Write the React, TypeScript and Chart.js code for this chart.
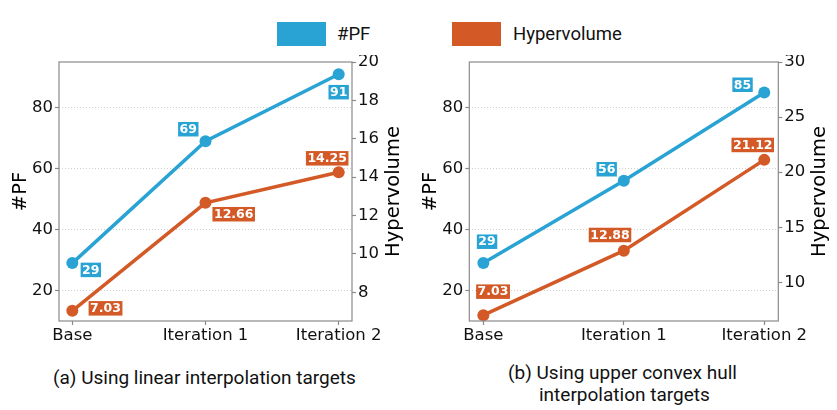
import React, { useEffect, useRef } from 'react';
import { Chart, registerables } from 'chart.js';

Chart.register(...registerables);

// ---------- data ----------
const CATEGORIES = ['Base', 'Iteration 1', 'Iteration 2'];
const PF_LINEAR = [29, 69, 91];
const HV_LINEAR = [7.03, 12.66, 14.25];
const PF_HULL = [29, 56, 85];
const HV_HULL = [7.03, 12.88, 21.12];
const PF_TICKS = [20, 40, 60, 80];
const HV_TICKS_LINEAR = [8, 10, 12, 14, 16, 18, 20];
const HV_TICKS_HULL = [10, 15, 20, 25, 30];
const SERIES_NAMES = ['#PF', 'Hypervolume'];
const CAPTION_A = '(a) Using linear interpolation targets';
const CAPTION_B_LINE1 = '(b) Using upper convex hull';
const CAPTION_B_LINE2 = 'interpolation targets';

// ---------- styles ----------
const BLUE = '#29A3D4';
const ORANGE = '#D35A26';
const GREY = '#8a8a8a';
const TICK_FONT = { family: '"DejaVu Sans", sans-serif', size: 16.5 };

// data label placement (pixel offsets from each point)
const OFFSETS_A = {
  pf: [[18.5, 6.8], [-17.2, -12], [0, 18]],
  hv: [[33.2, -2.5], [28.2, 11.4], [-11.5, -14]],
};
const OFFSETS_B = {
  pf: [[3.7, -21.4], [-17.1, -11.6], [-21.7, -7.7]],
  hv: [[9.7, -23.5], [-13.8, -15.7], [-11.5, -14.9]],
};

type PanelProps = {
  pf: number[];
  hv: number[];
  hvTicks: number[];
  hvMin: number;
  hvMax: number;
  offsets: { pf: number[][]; hv: number[][] };
  width: number;
  height: number;
  areaLeft: number;
  areaRight: number;
  areaTop: number;
  areaBottom: number;
};

function Panel(props: PanelProps) {
  const ref = useRef<HTMLCanvasElement | null>(null);
  useEffect(() => {
    const canvas = ref.current;
    if (!canvas) return;
    const { pf, hv, hvTicks, hvMin, hvMax, offsets, width, height, areaLeft, areaRight, areaTop, areaBottom } = props;

    const labelTexts = [pf.map((v) => String(v)), hv.map((v) => v.toFixed(2))];
    const labelOffsets = [offsets.pf, offsets.hv];
    const colors = [BLUE, ORANGE];

    const decor = {
      id: 'decor',
      afterDatasetsDraw(chart: any) {
        const ctx = chart.ctx as CanvasRenderingContext2D;
        ctx.save();
        ctx.font = 'bold 12.5px "DejaVu Sans", sans-serif';
        ctx.textAlign = 'center';
        ctx.textBaseline = 'middle';
        [0, 1].forEach((di) => {
          const meta = chart.getDatasetMeta(di);
          meta.data.forEach((pt: any, i: number) => {
            const [dx, dy] = labelOffsets[di][i];
            const text = labelTexts[di][i];
            const w = ctx.measureText(text).width + 3;
            const h = 14.5;
            const cx = pt.x + dx;
            const cy = pt.y + dy;
            ctx.fillStyle = colors[di];
            ctx.fillRect(cx - w / 2, cy - h / 2, w, h);
            ctx.fillStyle = '#ffffff';
            ctx.fillText(text, cx, cy + 0.5);
          });
        });
        ctx.restore();
      },
      afterDraw(chart: any) {
        const ctx = chart.ctx as CanvasRenderingContext2D;
        const a = chart.chartArea;
        ctx.save();
        ctx.strokeStyle = GREY;
        ctx.lineWidth = 1.2;
        ctx.strokeRect(a.left, a.top, a.right - a.left, a.bottom - a.top);
        ctx.fillStyle = '#000';
        ctx.font = '19.5px "DejaVu Sans", sans-serif';
        ctx.textAlign = 'center';
        ctx.textBaseline = 'middle';
        const midY = (a.top + a.bottom) / 2;
        ctx.save();
        ctx.translate(a.left - 38, midY);
        ctx.rotate(-Math.PI / 2);
        ctx.fillText(SERIES_NAMES[0], 0, 0);
        ctx.restore();
        ctx.save();
        ctx.translate(a.right + 41.5, midY);
        ctx.rotate(-Math.PI / 2);
        ctx.fillText(SERIES_NAMES[1], 0, 0);
        ctx.restore();
        ctx.restore();
      },
    };

    const chart = new Chart(canvas, {
      type: 'line',
      data: {
        datasets: [
          {
            label: SERIES_NAMES[0],
            data: pf.map((v, i) => ({ x: i, y: v })),
            yAxisID: 'y',
            borderColor: BLUE,
            backgroundColor: BLUE,
            borderWidth: 3.5,
            pointRadius: 6,
            pointBorderWidth: 0,
            pointHoverRadius: 6,
            tension: 0,
          },
          {
            label: SERIES_NAMES[1],
            data: hv.map((v, i) => ({ x: i, y: v })),
            yAxisID: 'y1',
            borderColor: ORANGE,
            backgroundColor: ORANGE,
            borderWidth: 3.5,
            pointRadius: 6,
            pointBorderWidth: 0,
            pointHoverRadius: 6,
            tension: 0,
          },
        ],
      },
      options: {
        animation: false,
        responsive: false,
        events: [],
        layout: { padding: { top: areaTop, left: 0, right: 0, bottom: 0 } },
        plugins: { legend: { display: false }, tooltip: { enabled: false }, title: { display: false } },
        scales: {
          x: {
            type: 'linear',
            min: -0.1,
            max: 2.1,
            afterBuildTicks: (s: any) => {
              s.ticks = CATEGORIES.map((_, i) => ({ value: i }));
            },
            afterFit: (s: any) => {
              s.height = height - areaBottom;
              s.paddingLeft = 0;
              s.paddingRight = 0;
            },
            ticks: {
              callback: (v: any) => CATEGORIES[v] ?? '',
              font: TICK_FONT,
              color: '#111',
              padding: 1,
              maxRotation: 0,
              autoSkip: false,
            },
            grid: { drawOnChartArea: false, drawTicks: true, tickLength: 4, tickColor: GREY, tickWidth: 1.2 },
            border: { display: false },
          },
          y: {
            type: 'linear',
            position: 'left',
            min: 10,
            max: 95,
            afterBuildTicks: (s: any) => {
              s.ticks = PF_TICKS.map((v) => ({ value: v }));
            },
            afterFit: (s: any) => {
              s.width = areaLeft;
              s.paddingTop = 0;
              s.paddingBottom = 0;
            },
            ticks: { font: TICK_FONT, color: '#111', padding: 2 },
            grid: {
              color: '#cfcfcf',
              lineWidth: 1,
              drawTicks: true,
              tickLength: 4,
              tickColor: GREY,
              tickWidth: 1.2,
              tickBorderDash: [],
            },
            border: { display: false, dash: [1, 2] },
          },
          y1: {
            type: 'linear',
            position: 'right',
            min: hvMin,
            max: hvMax,
            afterBuildTicks: (s: any) => {
              s.ticks = hvTicks.map((v) => ({ value: v }));
            },
            afterFit: (s: any) => {
              s.width = width - areaRight;
              s.paddingTop = 0;
              s.paddingBottom = 0;
            },
            ticks: { font: TICK_FONT, color: '#111', padding: 2 },
            grid: { drawOnChartArea: false, drawTicks: true, tickLength: 4, tickColor: GREY, tickWidth: 1.2 },
            border: { display: false },
          },
        },
      } as any,
      plugins: [decor],
    });
    return () => chart.destroy();
  }, []);
  return <canvas ref={ref} width={props.width} height={props.height} style={{ display: 'block' }} />;
}

const textStyle: React.CSSProperties = {
  position: 'absolute',
  fontFamily: 'Roboto, sans-serif',
  fontSize: 18.5,
  lineHeight: '22px',
  color: '#111',
  whiteSpace: 'nowrap',
};

export default function App() {
  return (
    <div style={{ position: 'fixed', left: 0, top: 0, width: 837, height: 410, background: '#fff', overflow: 'hidden' }}>
      {/* legend */}
      <div style={{ position: 'absolute', left: 277, top: 22, width: 49, height: 24, background: BLUE }} />
      <div style={{ ...textStyle, left: 337, top: 23 }}>{SERIES_NAMES[0]}</div>
      <div style={{ position: 'absolute', left: 452, top: 22, width: 49, height: 24, background: ORANGE }} />
      <div style={{ ...textStyle, left: 513, top: 23 }}>{SERIES_NAMES[1]}</div>

      <div style={{ position: 'absolute', left: 0, top: 55 }}>
        <Panel
          pf={PF_LINEAR}
          hv={HV_LINEAR}
          hvTicks={HV_TICKS_LINEAR}
          hvMin={6.5}
          hvMax={20}
          offsets={OFFSETS_A}
          width={420}
          height={290}
          areaLeft={59}
          areaRight={352}
          areaTop={7}
          areaBottom={266}
        />
      </div>
      <div style={{ position: 'absolute', left: 420, top: 55 }}>
        <Panel
          pf={PF_HULL}
          hv={HV_HULL}
          hvTicks={HV_TICKS_HULL}
          hvMin={6.5}
          hvMax={30}
          offsets={OFFSETS_B}
          width={417}
          height={290}
          areaLeft={49.3}
          areaRight={358.3}
          areaTop={7}
          areaBottom={266}
        />
      </div>

      {/* captions */}
      <div style={{ ...textStyle, fontSize: 19, left: 53, top: 367 }}>{CAPTION_A}</div>
      <div style={{ ...textStyle, fontSize: 19, left: 508, top: 362 }}>{CAPTION_B_LINE1}</div>
      <div style={{ ...textStyle, fontSize: 19, left: 539, top: 384 }}>{CAPTION_B_LINE2}</div>
    </div>
  );
}
